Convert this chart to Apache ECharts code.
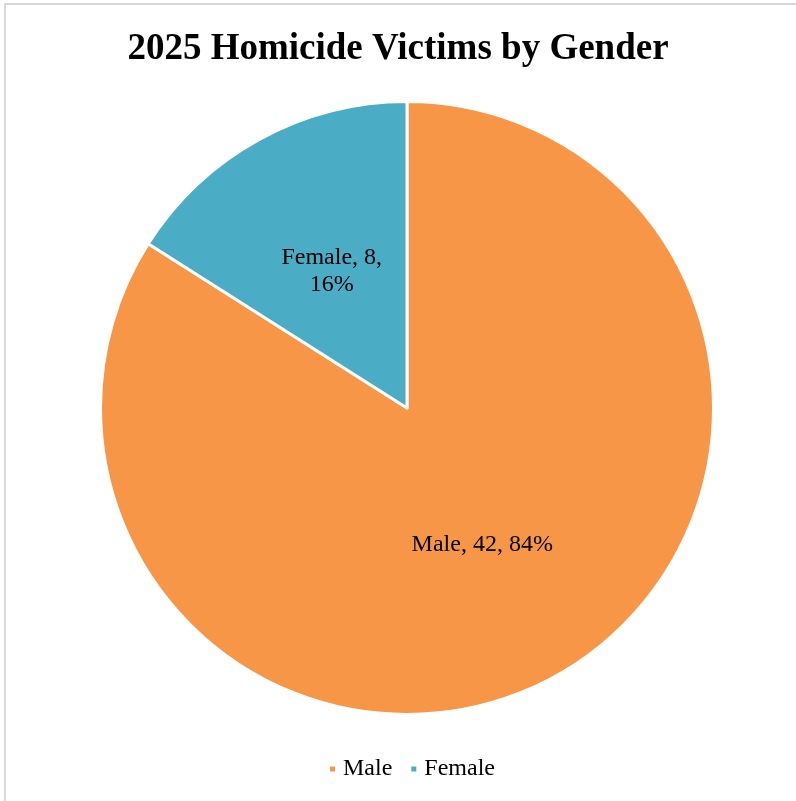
<!DOCTYPE html>
<html>
<head>
<meta charset="utf-8">
<title>2025 Homicide Victims by Gender</title>
<script src="https://cdn.jsdelivr.net/npm/echarts@6/dist/echarts.min.js"></script>
<style>
  html, body { margin: 0; padding: 0; background: #ffffff; }
  #chart { width: 796px; height: 801px; }
</style>
</head>
<body>
<div id="chart"></div>
<script>
// Victim counts by gender
const categories = ['Male', 'Female'];
const victimCounts = [42, 8];
const sliceColors = ['#F79646', '#4BACC6'];
const chartTitle = '2025 Homicide Victims by Gender';

const serif = '"Liberation Serif", "Times New Roman", serif';

const chart = echarts.init(document.getElementById('chart'), null, { renderer: 'canvas' });

const pieData = categories.map((name, i) => ({
  name: name,
  value: victimCounts[i],
  itemStyle: { color: sliceColors[i] },
  // the narrow slice wraps its percentage onto a second line
  label: {
    formatter: i === 0 ? '{b}, {c}, {d}%' : '{b}, {c},\n{d}%'
  }
}));

chart.setOption({
  backgroundColor: '#ffffff',
  animation: false,
  title: {
    text: chartTitle,
    left: 'center',
    top: 31,
    padding: 0,
    textStyle: {
      fontFamily: serif,
      fontWeight: 'bold',
      fontSize: 37,
      color: '#000000'
    }
  },
  legend: {
    data: categories,
    top: 757,
    left: 328,
    padding: 0,
    icon: 'rect',
    itemWidth: 7,
    itemHeight: 7,
    itemGap: 17,
    textStyle: {
      fontFamily: serif,
      fontSize: 24,
      color: '#000000',
      padding: [0, 0, 0, 2]
    }
  },
  graphic: [{
    type: 'rect',
    silent: true,
    shape: { x: 5, y: 4, width: 820, height: 830 },
    style: { fill: 'none', stroke: '#d9d9d9', lineWidth: 2 }
  }],
  series: [{
    type: 'pie',
    center: [407, 408],
    radius: [0, 306.5],
    startAngle: 90,
    clockwise: true,
    itemStyle: { borderColor: '#ffffff', borderWidth: 3 },
    label: {
      show: true,
      position: 'inside',
      fontFamily: serif,
      fontSize: 24,
      lineHeight: 27,
      color: '#000000',
      align: 'center'
    },
    labelLine: { show: false },
    emphasis: { disabled: true },
    data: pieData
  }]
});
</script>
</body>
</html>
